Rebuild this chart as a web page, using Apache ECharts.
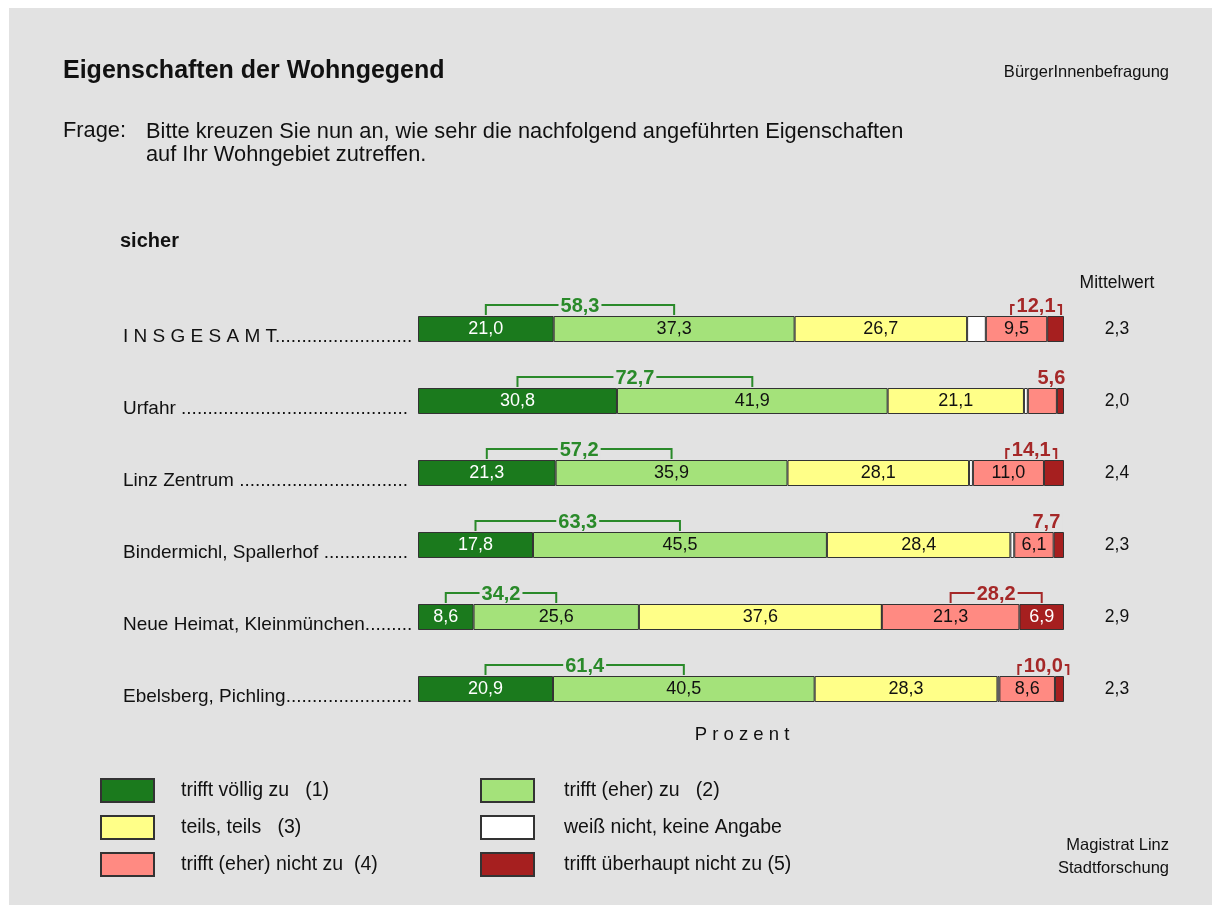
<!DOCTYPE html>
<html>
<head>
<meta charset="UTF-8">
<title>Eigenschaften der Wohngegend</title>
<script src="https://cdn.jsdelivr.net/npm/echarts@6/dist/echarts.min.js"></script>
<style>
  body { margin: 0; background: #fff; }
  #chart { width: 1220px; height: 914px; }
</style>
</head>
<body>
<div id="chart"></div>
<script>
// Kategorien (oben nach unten)
var categories = ['I N S G E S A M T', 'Urfahr ', 'Linz Zentrum ', 'Bindermichl, Spallerhof ', 'Neue Heimat, Kleinmünchen', 'Ebelsberg, Pichling'];

// Anteile in Prozent
var voellig   = [21.0, 30.8, 21.3, 17.8, 8.6, 20.9];
var eher      = [37.3, 41.9, 35.9, 45.5, 25.6, 40.5];
var teils     = [26.7, 21.1, 28.1, 28.4, 37.6, 28.3];
var weissNich = [2.9, 0.6, 0.6, 0.6, 0.0, 0.3];
var eherNicht = [9.5, 4.5, 11.0, 6.1, 21.3, 8.6];
var garNicht  = [2.6, 1.1, 3.1, 1.6, 6.9, 1.4];

var mittelwert = ['2,3', '2,0', '2,4', '2,3', '2,9', '2,3'];

var seriesNames = ['trifft völlig zu   (1)', 'trifft (eher) zu   (2)', 'teils, teils   (3)',
                   'weiß nicht, keine Angabe', 'trifft (eher) nicht zu  (4)', 'trifft überhaupt nicht zu (5)'];
var colors = ['#1b7a1d', '#a4e27a', '#ffff88', '#ffffff', '#ff8a82', '#a61f1f'];
var labelColors = ['#fff', '#111', '#111', '#111', '#111', '#fff'];

var GREEN = '#2a8a2a', RED = '#a52828', BG = '#e2e2e2';
var FONT = 'Liberation Sans';

function fmt(v) { return v.toFixed(1).replace('.', ','); }

// Punkte bis zur Balkenkante auffuellen
var ctx = document.createElement('canvas').getContext('2d');
ctx.font = '19px "' + FONT + '"';
function dotted(name) {
  var s = name;
  while (ctx.measureText(s + '.').width <= 290) s += '.';
  return s;
}

// Klammern: [links, rechts, zeile, summe, typ]
var brackets = [];
for (var i = 0; i < categories.length; i++) {
  brackets.push([voellig[i] / 2, voellig[i] + eher[i] / 2, i, voellig[i] + eher[i], 0]);
  var s4 = voellig[i] + eher[i] + teils[i] + weissNich[i];
  brackets.push([s4 + eherNicht[i] / 2, s4 + eherNicht[i] + garNicht[i] / 2, i, eherNicht[i] + garNicht[i], 1]);
}

function renderBracket(params, api) {
  var p1 = api.coord([api.value(0), api.value(2)]);
  var p2 = api.coord([api.value(1), api.value(2)]);
  var top = p1[1] - 13;
  var ly = top - 11;
  var c = api.value(4) ? RED : GREEN;
  var cx = (p1[0] + p2[0]) / 2;
  var half = Math.max((p2[0] - p1[0]) / 2, 25);
  var children = [];
  // kleine Summen nur als Zahl
  if (api.value(3) >= 10) {
    children.push({ type: 'polyline',
      shape: { points: [[cx - half, top - 1], [cx - half, ly], [cx + half, ly], [cx + half, top - 1]] },
      style: { stroke: c, lineWidth: 2, fill: null } });
  }
  children.push({ type: 'text', x: cx, y: ly + 1,
    style: { text: fmt(api.value(3)), fill: c, font: 'bold 20px "' + FONT + '"',
             align: 'center', verticalAlign: 'middle', backgroundColor: BG, padding: [0, 2] } });
  return { type: 'group', children: children };
}

var data = [voellig, eher, teils, weissNich, eherNicht, garNicht];
var series = data.map(function (d, k) {
  return {
    name: seriesNames[k],
    type: 'bar',
    stack: 'total',
    barWidth: 26,
    data: d,
    itemStyle: { color: colors[k], borderColor: '#333', borderWidth: 1 },
    label: {
      show: true,
      position: 'inside',
      color: labelColors[k],
      fontFamily: FONT,
      fontSize: 18,
      formatter: function (p) { return p.value >= 5 ? fmt(p.value) : ''; }
    },
    emphasis: { disabled: true },
    animation: false
  };
});
series.push({
  type: 'custom',
  renderItem: renderBracket,
  data: brackets,
  encode: { x: [0, 1], y: 2 },
  z: 5,
  silent: true,
  animation: false
});

var chart = echarts.init(document.getElementById('chart'));
function legendAt(left, names, gap) {
  return {
    left: left,
    top: 778,
    orient: 'vertical',
    padding: 0,
    itemWidth: 53,
    itemHeight: 23,
    itemGap: 12,
    icon: 'rect',
    selectedMode: false,
    data: names,
    textStyle: { fontFamily: FONT, fontSize: 19.5, color: '#111', padding: [0, 0, 0, gap] }
  };
}
chart.setOption({
  backgroundColor: '#fff',
  textStyle: { fontFamily: FONT },
  animation: false,
  grid: { left: 418, right: 156, top: 293, height: 432 },
  xAxis: { type: 'value', min: 0, max: 100, show: false },
  yAxis: [
    {
      type: 'category', inverse: true, data: categories,
      axisLine: { show: false }, axisTick: { show: false },
      axisLabel: {
        align: 'left', margin: 295, color: '#111', fontFamily: FONT, fontSize: 19,
        verticalAlign: 'top', lineHeight: 15,
        formatter: function (v) { return dotted(v); }
      }
    },
    {
      type: 'category', inverse: true, data: mittelwert, position: 'right',
      axisLine: { show: false }, axisTick: { show: false },
      axisLabel: { align: 'center', margin: 53, color: '#111', fontFamily: FONT, fontSize: 17.5 }
    }
  ],
  legend: [
    legendAt(100, [seriesNames[0], seriesNames[2], seriesNames[4]], 22),
    legendAt(480, [seriesNames[1], seriesNames[3], seriesNames[5]], 25)
  ],
  graphic: [
    { type: 'rect', z: -10, shape: { x: 9, y: 8, width: 1203, height: 897 }, style: { fill: BG } },
    { type: 'text', x: 63, y: 71, style: { text: 'Eigenschaften der Wohngegend', font: 'bold 25px "' + FONT + '"', fill: '#111', verticalAlign: 'middle' } },
    { type: 'text', x: 1169, y: 72, style: { text: 'BürgerInnenbefragung', font: '16.5px "' + FONT + '"', fill: '#111', align: 'right', verticalAlign: 'middle' } },
    { type: 'text', x: 63, y: 131, style: { text: 'Frage:', font: '21.8px "' + FONT + '"', fill: '#111', verticalAlign: 'middle' } },
    { type: 'text', x: 146, y: 120, style: { text: 'Bitte kreuzen Sie nun an, wie sehr die nachfolgend angeführten Eigenschaften\nauf Ihr Wohngebiet zutreffen.', font: '21.8px "' + FONT + '"', lineHeight: 23, fill: '#111', verticalAlign: 'top' } },
    { type: 'text', x: 120, y: 241, style: { text: 'sicher', font: 'bold 20px "' + FONT + '"', fill: '#111', verticalAlign: 'middle' } },
    { type: 'text', x: 1117, y: 283, style: { text: 'Mittelwert', font: '17.5px "' + FONT + '"', fill: '#111', align: 'center', verticalAlign: 'middle' } },
    { type: 'text', x: 742, y: 735, style: { text: 'P r o z e n t', font: '18.5px "' + FONT + '"', fill: '#111', align: 'center', verticalAlign: 'middle' } },
    { type: 'text', x: 1169, y: 845, style: { text: 'Magistrat Linz', font: '16.5px "' + FONT + '"', fill: '#111', align: 'right', verticalAlign: 'middle' } },
    { type: 'text', x: 1169, y: 868, style: { text: 'Stadtforschung', font: '16.5px "' + FONT + '"', fill: '#111', align: 'right', verticalAlign: 'middle' } }
  ],
  series: series
});
</script>
</body>
</html>
